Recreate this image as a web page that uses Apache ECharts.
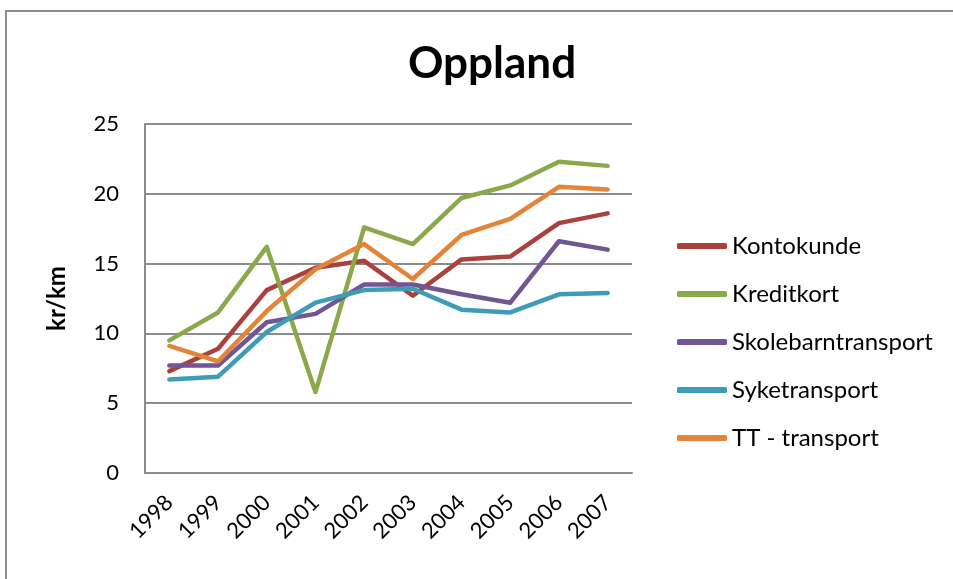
<!DOCTYPE html>
<html lang="no">
<head>
    <meta charset="UTF-8">
    <title>Oppland</title>
    <script src="https://cdn.jsdelivr.net/npm/echarts@6/dist/echarts.min.js"></script>
    <style>
        html, body { margin: 0; padding: 0; background: #fff; overflow: hidden; }
        #chart { width: 953px; height: 579px; }
    </style>
</head>
<body>
    <div id="chart"></div>
    <script>
        // data
        var years = ['1998', '1999', '2000', '2001', '2002', '2003', '2004', '2005', '2006', '2007'];
        var kontokunde = [7.3, 8.9, 13.1, 14.7, 15.2, 12.7, 15.3, 15.5, 17.9, 18.6];
        var kreditkort = [9.5, 11.5, 16.2, 5.8, 17.6, 16.4, 19.7, 20.6, 22.3, 22.0];
        var skolebarn = [7.7, 7.7, 10.8, 11.4, 13.5, 13.5, 12.8, 12.2, 16.6, 16.0];
        var syketransport = [6.7, 6.9, 10.1, 12.2, 13.1, 13.2, 11.7, 11.5, 12.8, 12.9];
        var ttTransport = [9.1, 8.0, 11.6, 14.6, 16.4, 13.9, 17.05, 18.2, 20.5, 20.3];
        var yTicks = [0, 5, 10, 15, 20, 25];

        var font = 'Lato, "Open Sans", sans-serif';
        var chart = echarts.init(document.getElementById('chart'));

        function line(name, data, color) {
            return {
                name: name,
                type: 'line',
                data: data,
                showSymbol: false,
                symbol: 'none',
                lineStyle: { width: 4.5, color: color, cap: 'round', join: 'round' },
                itemStyle: { color: color },
                emphasis: { disabled: true }
            };
        }

        chart.setOption({
            animation: false,
            title: {
                text: 'Oppland',
                left: 487,
                textAlign: 'center',
                top: 37,
                textStyle: { fontFamily: font, fontWeight: 'bold', fontSize: 44, color: '#000' }
            },
            // frame: only the left and top edges show in the picture
            graphic: [{
                type: 'polyline',
                shape: { points: [[6, 579], [6, 11], [953, 11]] },
                style: { fill: null, stroke: '#8c8c8c', lineWidth: 2 },
                silent: true
            }],
            grid: { left: 145, right: 321, top: 124, bottom: 106 },
            legend: {
                orient: 'vertical',
                left: 672,
                top: 229,
                icon: 'roundRect',
                itemWidth: 50,
                itemHeight: 6,
                itemGap: 24,
                textStyle: { fontFamily: font, fontSize: 24, color: '#000', lineHeight: 24 },
                data: ['Kontokunde', 'Kreditkort', 'Skolebarntransport', 'Syketransport', 'TT - transport']
            },
            xAxis: {
                type: 'category',
                data: years,
                boundaryGap: true,
                axisLine: { lineStyle: { color: '#8c8c8c', width: 2 } },
                axisTick: { show: false },
                axisLabel: { rotate: 45, margin: 26, fontFamily: font, fontSize: 22, color: '#000' }
            },
            yAxis: {
                type: 'value',
                min: yTicks[0],
                max: yTicks[yTicks.length - 1],
                interval: 5,
                name: 'kr/km',
                nameLocation: 'middle',
                nameGap: 76,
                nameTextStyle: { fontFamily: font, fontWeight: 'bold', fontSize: 24, color: '#000' },
                axisLine: { show: true, lineStyle: { color: '#8c8c8c', width: 2 } },
                axisTick: { show: false },
                axisLabel: { margin: 26, fontFamily: font, fontSize: 22, color: '#000' },
                splitLine: { lineStyle: { color: '#8c8c8c', width: 2 } }
            },
            series: [
                line('Kontokunde', kontokunde, '#AA413D'),
                line('Kreditkort', kreditkort, '#89A94A'),
                line('Skolebarntransport', skolebarn, '#705693'),
                line('Syketransport', syketransport, '#3F9CB6'),
                line('TT - transport', ttTransport, '#E2853A')
            ]
        });
    </script>
</body>
</html>
